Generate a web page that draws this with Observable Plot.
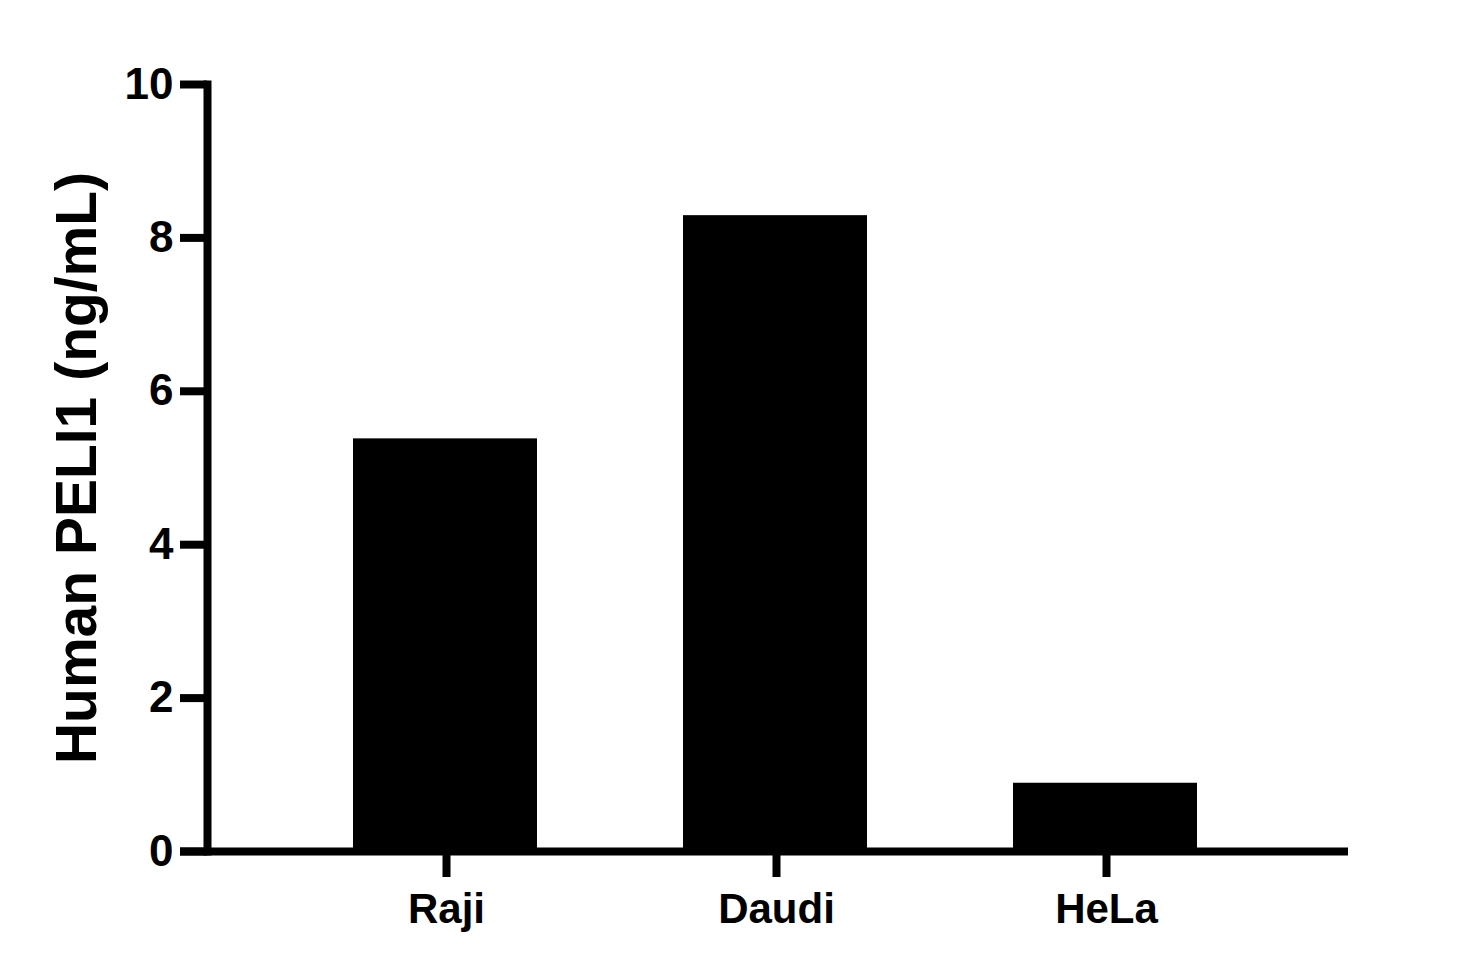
<!DOCTYPE html>
<html>
<head>
<meta charset="utf-8">
<script src="https://cdn.jsdelivr.net/npm/d3@7"></script>
<script src="https://cdn.jsdelivr.net/npm/@observablehq/plot@0.6"></script>
<style>
  html, body { margin: 0; padding: 0; background: #fff; }
  #chart { width: 1482px; height: 972px; }
</style>
</head>
<body>
<div id="chart"></div>
<script>
const categories = ["Raji", "Daudi", "HeLa"];
const values = [5.38, 8.29, 0.89];
const yTicks = [0, 2, 4, 6, 8, 10];
const yLabel = "Human PELI1 (ng/mL)";

const data = categories.map((c, i) => ({cell: c, value: values[i]}));
const font = "'Liberation Sans', Arial, Helvetica, sans-serif";

const chart = Plot.plot({
  width: 1482,
  height: 972,
  marginTop: 84,
  marginBottom: 121,
  marginLeft: 207,
  marginRight: 138,
  style: {fontFamily: font, fontWeight: "bold", background: "#fff", color: "#000"},
  x: {domain: categories, paddingInner: 0.443, paddingOuter: 0.443, label: null},
  y: {domain: [0, 10], label: null},
  marks: [
    Plot.barY(data, {x: "cell", y: "value", fill: "#000", dx: -1}),
    Plot.axisY({ticks: yTicks, tickSize: 27, tickPadding: 7, strokeWidth: 8,
      fontSize: 44, fontWeight: "bold", label: null, fill: "#000"}),
    Plot.axisX({tickSize: 26, tickPadding: 16, strokeWidth: 8,
      fontSize: 42, fontWeight: "bold", label: null, fill: "#000"}),
    Plot.frame({anchor: "left", stroke: "#000", strokeWidth: 8, strokeLinecap: "square"}),
    Plot.ruleY([0], {stroke: "#000", strokeWidth: 8, insetLeft: -27, insetRight: -4}),
    Plot.text([yLabel], {frameAnchor: "left", rotate: -90, dx: -112, lineAnchor: "bottom",
      fontSize: 57, fontWeight: "bold", fill: "#000", textAnchor: "middle"})
  ]
});
document.getElementById("chart").appendChild(chart);
</script>
</body>
</html>
